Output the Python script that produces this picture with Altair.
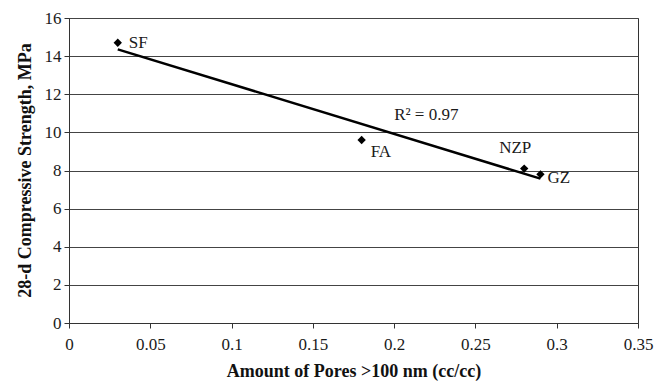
import altair as alt
import pandas as pd

# Data
materials = ["SF", "FA", "NZP", "GZ"]
pores = [0.03, 0.18, 0.28, 0.29]
strength = [14.7, 9.6, 8.1, 7.8]

x_ticks = [0, 0.05, 0.1, 0.15, 0.2, 0.25, 0.3, 0.35]
y_ticks = [0, 2, 4, 6, 8, 10, 12, 14, 16]

r2_text = "R\u00b2 = 0.97"
r2_x = 0.2
r2_y = 10.9

df = pd.DataFrame({"material": materials, "pores": pores, "strength": strength})

FONT = "Liberation Serif"

xenc = alt.X(
    "pores:Q",
    scale=alt.Scale(domain=[0, 0.35], nice=False, zero=False),
    axis=alt.Axis(
        values=x_ticks,
        title="Amount of Pores >100 nm (cc/cc)",
        grid=False,
        format="~g",
        labelFontSize=17,
        labelFont=FONT,
        labelColor="#1a1a1a",
        labelPadding=8,
        labelOverlap=False,
        labelFlush=False,
        tickSize=5,
        tickColor="#333",
        domainColor="#333",
        titleFont=FONT,
        titleFontSize=18,
        titleFontWeight="bold",
        titleColor="#111",
        titleY=48,
        titleBaseline="middle",
    ),
)
yenc = alt.Y(
    "strength:Q",
    scale=alt.Scale(domain=[0, 16], nice=False),
    axis=alt.Axis(
        values=y_ticks,
        title="28-d Compressive Strength, MPa",
        grid=True,
        gridColor="#444",
        gridWidth=1,
        labelFontSize=17,
        labelFont=FONT,
        labelColor="#1a1a1a",
        labelPadding=3,
        labelOverlap=False,
        labelFlush=False,
        tickSize=5,
        tickColor="#333",
        domainColor="#333",
        titleFont=FONT,
        titleFontSize=18,
        titleFontWeight="bold",
        titleColor="#111",
        titleAngle=-90,
        titleX=-44,
        titleY=152,
        titleAlign="center",
        titleBaseline="middle",
    ),
)

base = alt.Chart(df).encode(x=xenc, y=yenc)

points = base.mark_point(shape="diamond", filled=True, color="black", size=70, opacity=1)

trend = base.transform_regression("pores", "strength").mark_line(color="black", strokeWidth=2.5)

offsets = {"SF": (11, 0), "FA": (9, 12), "NZP": (-25, -21), "GZ": (7, 4)}
labels = []
for m in materials:
    dx, dy = offsets[m]
    labels.append(
        base.transform_filter(alt.datum.material == m)
        .mark_text(font=FONT, fontSize=17, color="#1a1a1a", dx=dx, dy=dy, align="left", baseline="middle")
        .encode(text="material:N")
    )

r2 = alt.Chart(pd.DataFrame({"pores": [r2_x], "strength": [r2_y], "t": [r2_text]})).mark_text(
    font=FONT, fontSize=17, color="#1a1a1a", align="left", baseline="middle"
).encode(x=xenc, y=yenc, text="t:N")

chart = alt.layer(trend, points, *labels, r2).properties(
    width=569,
    height=305,
    autosize=alt.AutoSizeParams(type="none"),
    padding={"left": 61, "top": 10, "right": 20, "bottom": 60},
    background="white",
).configure_view(stroke="#333", strokeWidth=1)

chart.save("out.html", embed_options={"renderer": "svg", "actions": False})
